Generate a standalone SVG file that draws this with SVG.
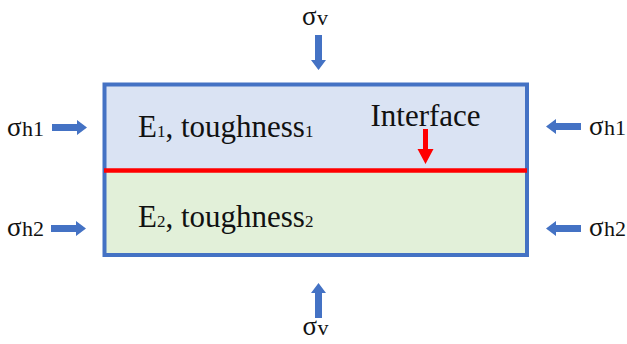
<svg xmlns="http://www.w3.org/2000/svg" width="627" height="344" viewBox="0 0 627 344">
  <style>
    text { font-family: "Liberation Serif", "Times New Roman", serif; fill: #111; }
    .big { font-size: 31px; }
    .sub { font-size: 17px; }
    .sig { font-size: 27px; }
    .lbl { font-size: 22px; }
    .push { fill: #4472c4; }
  </style>
  <defs>
    <!-- block arrow pointing right, tip at origin -->
    <path id="arrR" d="M-35,-3.5 L-10,-3.5 L-10,-7.5 L0,0 L-10,7.5 L-10,3.5 L-35,3.5 Z"/>
  </defs>
  <rect width="627" height="344" fill="#ffffff"/>

  <!-- layered block -->
  <g id="upper-layer">
    <rect x="104.5" y="84.5" width="422.5" height="86" fill="#dae3f3"/>
    <text class="big" x="138" y="137">E<tspan class="sub">1</tspan>, toughness<tspan class="sub">1</tspan></text>
  </g>
  <g id="lower-layer">
    <rect x="104.5" y="170.5" width="422.5" height="84.5" fill="#e2f0d9"/>
    <text class="big" x="138" y="227">E<tspan class="sub">2</tspan>, toughness<tspan class="sub">2</tspan></text>
  </g>
  <g id="block-border">
    <rect x="104.5" y="84.5" width="422.5" height="170.5" fill="none" stroke="#4472c4" stroke-width="4"/>
  </g>
  <g id="interface">
    <line x1="104" y1="170.5" x2="527" y2="170.5" stroke="#ff0000" stroke-width="4.5"/>
    <text class="big" x="370.5" y="126">Interface</text>
    <path d="M423,129 L428,129 L428,149 L433.5,149 L425.5,164 L417.5,149 L423,149 Z" fill="#ff0000"/>
  </g>

  <!-- applied stresses -->
  <g id="connectors">
    <use href="#arrR" class="push" transform="translate(318.5,70) rotate(90)"/>
    <use href="#arrR" class="push" transform="translate(318.5,283) rotate(-90)"/>
    <use href="#arrR" class="push" transform="translate(87,127.5)"/>
    <use href="#arrR" class="push" transform="translate(86,228.5)"/>
    <use href="#arrR" class="push" transform="translate(546,126.5) rotate(180)"/>
    <use href="#arrR" class="push" transform="translate(546,228.5) rotate(180)"/>
  </g>

  <g id="sigma-v-top">
    <text class="sig" x="302" y="25">σ</text>
    <text class="lbl" x="317" y="25" font-family="Liberation Serif, serif">v</text>
  </g>
  <g id="sigma-v-bottom">
    <text class="sig" x="302.5" y="335">σ</text>
    <text class="lbl" x="317.5" y="335" font-family="Liberation Serif, serif">v</text>
  </g>
  <g id="sigma-h1-left">
    <text class="sig" x="7" y="136">σ</text>
    <text class="lbl" x="22" y="136" font-family="Liberation Serif, serif">h1</text>
  </g>
  <g id="sigma-h2-left">
    <text class="sig" x="7" y="236">σ</text>
    <text class="lbl" x="22" y="236" font-family="Liberation Serif, serif">h2</text>
  </g>
  <g id="sigma-h1-right">
    <text class="sig" x="589" y="135">σ</text>
    <text class="lbl" x="604" y="135" font-family="Liberation Serif, serif">h1</text>
  </g>
  <g id="sigma-h2-right">
    <text class="sig" x="589" y="236">σ</text>
    <text class="lbl" x="604" y="236" font-family="Liberation Serif, serif">h2</text>
  </g>
</svg>
